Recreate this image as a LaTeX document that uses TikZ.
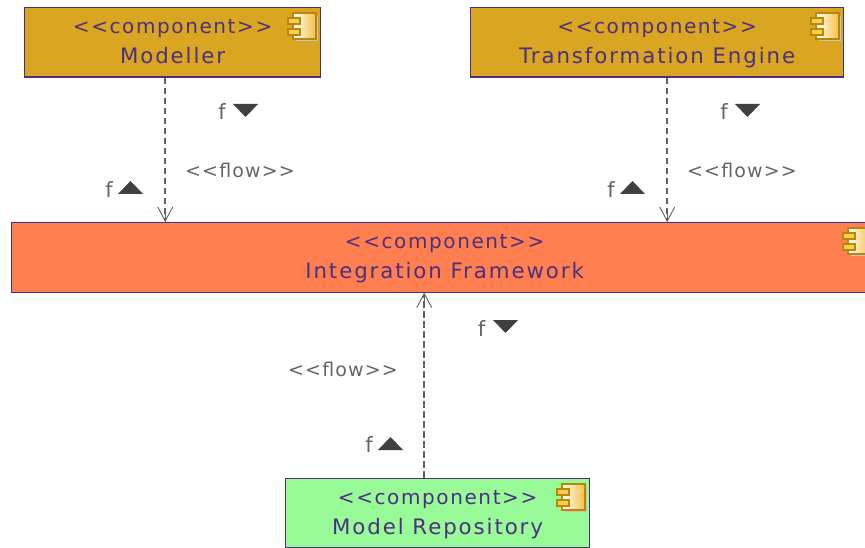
\documentclass[tikz,border=0pt]{standalone}
\usepackage{fontspec}
\setmainfont[LetterSpace=9]{DejaVu Sans}
\usetikzlibrary{arrows.meta,calc}
\definecolor{edgepurple}{HTML}{4B2E83}
\definecolor{txtpurple}{HTML}{4B3080}
\definecolor{flowgray}{HTML}{666666}
\definecolor{linegray}{HTML}{606060}
\definecolor{trigray}{HTML}{404040}
\definecolor{icongold}{HTML}{B8860B}
\definecolor{portgold}{HTML}{F5CF50}
\definecolor{shadowgray}{HTML}{C4C4C4}
\definecolor{goldfill}{HTML}{DAA520}
\definecolor{coralfill}{HTML}{FF7F50}
\definecolor{greenfill}{HTML}{98FB98}
\tikzset{
  x=1pt,y=-1pt,
  compbox/.style={draw=edgepurple,line width=1.2pt,inner sep=0pt,text=txtpurple,font=\fontsize{21.3}{30}\selectfont,align=center,minimum height=69.5pt,anchor=north west},
  flowline/.style={draw=linegray,line width=2pt,dash pattern=on 6.5pt off 3.5pt},
  flowhead/.style={draw=linegray,line width=0.9pt,-{Straight Barb[length=14pt,width=15pt,line width=0.9pt]}},
  flowtext/.style={text=flowgray,font=\fontsize{19}{24}\selectfont\addfontfeature{LetterSpace=6},inner sep=0pt},
  ftext/.style={text=flowgray,font=\fontsize{21}{24}\selectfont,inner sep=0pt},
  tri/.style={fill=trigray,draw=none},
  iconline/.style={draw=icongold,line width=2pt},
}
\newcommand{\compicon}[2]{%
  \begin{scope}[shift={(#1,#2)}]
    \fill[shadowgray] (8,3) rectangle (30,28);
    \shade[left color=white,right color=portgold!80!orange,draw=icongold,line width=2pt] (5,0) rectangle (28,26);
    \draw[iconline,fill=portgold] (0,5) rectangle (12,11);
    \draw[iconline,fill=portgold] (0,16) rectangle (12,22);
  \end{scope}}
\newcommand{\tridown}[2]{\fill[tri] (#1,#2) -- ++(25,0) -- ++(-12.5,13) -- cycle;}
\newcommand{\triup}[2]{\fill[tri] (#1,#2) -- ++(25,0) -- ++(-12.5,-13) -- cycle;}
\newcommand{\stereo}[1]{<{}<#1>{}>}
\newcommand{\comptext}[1]{\rule{0pt}{20pt}{\fontsize{20}{30}\selectfont\addfontfeature{LetterSpace=8}\stereo{component}}\\#1\rule[-7pt]{0pt}{7pt}}
\begin{document}
\begin{tikzpicture}
\useasboundingbox[fill=white] (0,0) rectangle (865,548);
\clip (0,0) rectangle (865,548);
\node[compbox,fill=goldfill,minimum width=296pt] (modeller) at (24,7) {\comptext{Modeller}};
\node[compbox,fill=goldfill,minimum width=373pt] (engine) at (470,7) {\comptext{Transformation Engine}};
\node[compbox,fill=coralfill,minimum width=866pt] (framework) at (11,222) {\comptext{Integration Framework}};
\node[compbox,fill=greenfill,minimum width=304pt] (repository) at (285,477.5) {\comptext{Model Repository}};
\compicon{288}{13}
\compicon{811}{13}
\compicon{843}{228.5}
\compicon{557}{483.5}
\coordinate (xa) at (165.25,0);
\coordinate (xb) at (667.25,0);
\coordinate (xc) at (424.25,0);
\draw[flowline] (xa |- modeller.south) -- ($(xa |- framework.north)+(0,-1)$);
\draw[flowhead] ($(xa |- framework.north)+(0,-14)$) -- (xa |- framework.north);
\draw[flowline] (xb |- engine.south) -- ($(xb |- framework.north)+(0,-1)$);
\draw[flowhead] ($(xb |- framework.north)+(0,-14)$) -- (xb |- framework.north);
\draw[flowline] (xc |- repository.north) -- ($(xc |- framework.south)+(0,1)$);
\draw[flowhead] ($(xc |- framework.south)+(0,14)$) -- (xc |- framework.south);
\node[flowtext] (flowa) at (240,170.5) {\stereo{f{}low}};
\node[flowtext] (flowb) at (742,170.5) {\stereo{f{}low}};
\node[flowtext] (flowc) at (343,369.5) {\stereo{f{}low}};
\node[ftext,anchor=base] (fa1) at (222,120) {f};
\node[ftext,anchor=base] (fa2) at (109,198) {f};
\node[ftext,anchor=base] (fb1) at (724,120) {f};
\node[ftext,anchor=base] (fb2) at (611,198) {f};
\node[ftext,anchor=base] (fc1) at (481.5,336) {f};
\node[ftext,anchor=base] (fc2) at (369,452.5) {f};
\tridown{233}{104}
\triup{118}{194}
\tridown{735}{104}
\triup{620}{194}
\tridown{493}{320}
\triup{378}{450}
\end{tikzpicture}
\end{document}
